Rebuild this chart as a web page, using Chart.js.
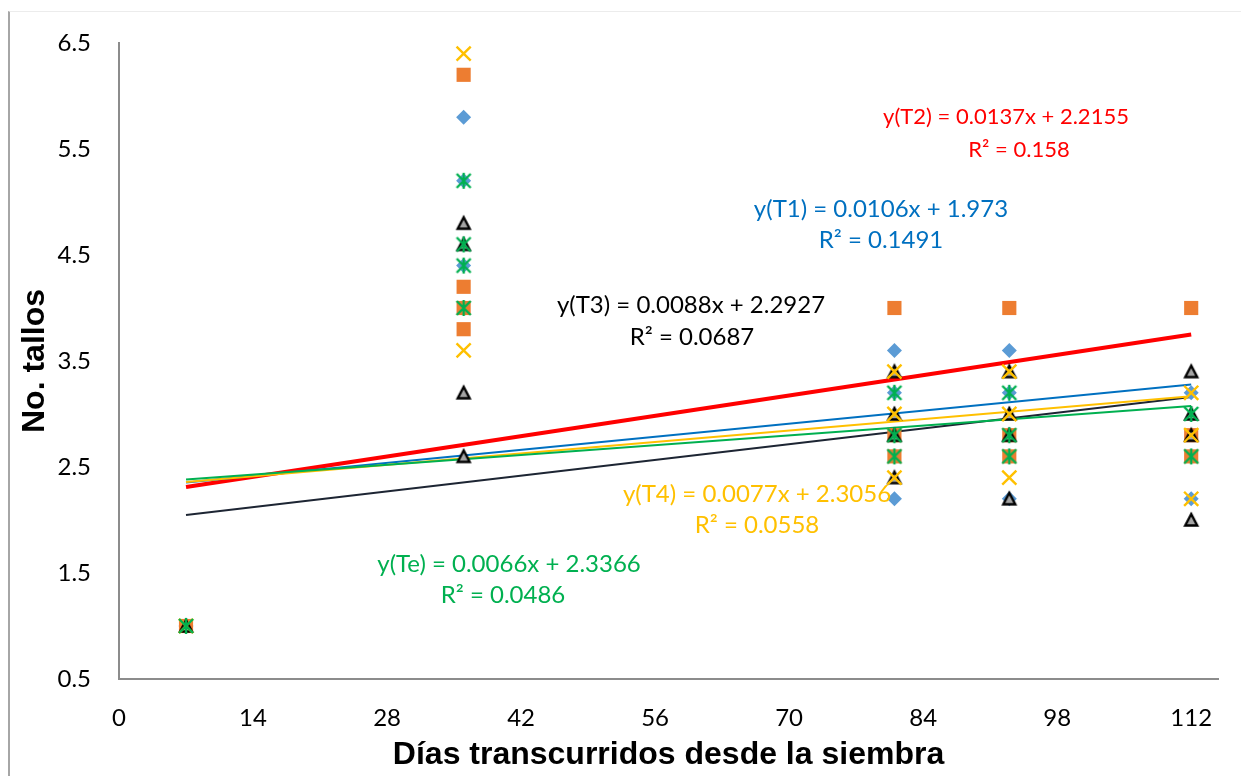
<!DOCTYPE html>
<html>
<head>
<meta charset="utf-8">
<script src="https://cdn.jsdelivr.net/npm/chart.js@4.4.0/dist/chart.umd.min.js"></script>
<style>
  html, body { margin: 0; padding: 0; background: #fff; }
  #wrap { position: relative; width: 1241px; height: 776px; overflow: hidden; }
  #frame { position: absolute; left: 8px; top: 11px; right: -10px; bottom: -10px; border-left: 2px solid #a6a6a6; border-top: 1px solid #ececec; }
  #chart { position: absolute; left: 0; top: 0; }
</style>
</head>
<body>
<div id="wrap">
  <div id="frame"></div>
  <canvas id="chart" width="1241" height="776"></canvas>
</div>
<script>
// tallos por tratamiento, días desde la siembra
const t1Days = [7, 36, 36, 36, 81, 81, 81, 93, 93, 93, 112, 112];
const t1Vals = [1.0, 5.8, 5.2, 4.4, 3.6, 3.2, 2.2, 3.6, 3.2, 2.2, 3.2, 2.2];

const t2Days = [7, 36, 36, 36, 36, 81, 81, 81, 93, 93, 93, 112, 112, 112];
const t2Vals = [1.0, 6.2, 4.2, 4.0, 3.8, 4.0, 2.8, 2.6, 4.0, 2.8, 2.6, 4.0, 2.8, 2.6];

const t3Days = [7, 36, 36, 36, 36, 81, 81, 81, 81, 93, 93, 93, 93, 112, 112, 112, 112];
const t3Vals = [1.0, 4.8, 4.6, 3.2, 2.6, 3.4, 3.0, 2.8, 2.4, 3.4, 3.0, 2.8, 2.2, 3.4, 3.0, 2.8, 2.0];

const t4Days = [7, 36, 36, 81, 81, 81, 93, 93, 93, 112, 112, 112];
const t4Vals = [1.0, 6.4, 3.6, 3.4, 3.0, 2.4, 3.4, 3.0, 2.4, 3.2, 2.8, 2.2];

const teDays = [7, 36, 36, 36, 36, 81, 81, 81, 93, 93, 93, 112, 112];
const teVals = [1.0, 5.2, 4.6, 4.4, 4.0, 3.2, 2.8, 2.6, 3.2, 2.8, 2.6, 3.0, 2.6];

// líneas de tendencia: y = m·x + b, con su R²
const trendNames = ['T1', 'T2', 'T3', 'T4', 'Te'];
const trendSlopes = [0.0106, 0.0137, 0.0088, 0.0077, 0.0066];
const trendIntercepts = [1.973, 2.2155, 2.2927, 2.3056, 2.3366];
const trendR2 = [0.1491, 0.158, 0.0687, 0.0558, 0.0486];
const trendRange = [7, 112];

const xTicks = [0, 14, 28, 42, 56, 70, 84, 98, 112];
const yTicks = [0.5, 1.5, 2.5, 3.5, 4.5, 5.5, 6.5];

// estilos
const trendLineColors = ['#1d2533', '#ff0000', '#0070c0', '#ffc000', '#00b050'];
const trendLineWidths = [2, 4, 2, 2, 2];
const eqColors = ['#0070c0', '#ff0000', '#000000', '#ffc000', '#00b050'];
const eqFontSizes = [24, 22, 24, 24, 24];
// centro (px) de cada renglón: ecuación y R²
const eqPos = [
  [[881, 209], [881, 240]],
  [[1006, 117], [1019, 150]],
  [[691, 305], [692, 337]],
  [[757, 494], [757, 525]],
  [[509, 564], [503, 595]],
];

function marker(draw) {
  const c = document.createElement('canvas');
  c.width = 20;
  c.height = 20;
  draw(c.getContext('2d'));
  return c;
}

const starMark = marker((g) => {
  g.strokeStyle = '#00b050';
  g.lineWidth = 2.4;
  g.beginPath();
  g.moveTo(3, 3); g.lineTo(17, 17);
  g.moveTo(17, 3); g.lineTo(3, 17);
  g.moveTo(10, 2); g.lineTo(10, 18);
  g.stroke();
});

const triMark = marker((g) => {
  g.fillStyle = '#a5a5a5';
  g.strokeStyle = '#000';
  g.lineWidth = 2.4;
  g.lineJoin = 'miter';
  g.beginPath();
  g.moveTo(10, 4);
  g.lineTo(16, 15.5);
  g.lineTo(4, 15.5);
  g.closePath();
  g.fill();
  g.stroke();
});

const pts = (xs, ys) => xs.map((x, i) => ({ x: x, y: ys[i] }));

const trendSets = trendNames.map((name, i) => ({
  label: 'Lineal (' + name + ')',
  data: trendRange.map((x) => ({ x: x, y: trendSlopes[i] * x + trendIntercepts[i] })),
  showLine: true,
  borderColor: trendLineColors[i],
  borderWidth: trendLineWidths[i],
  pointRadius: 0,
  order: 15 - i,
}));

const pointSets = [
  { label: 'T1', data: pts(t1Days, t1Vals), pointStyle: 'rectRot', pointRadius: 7.5,
    backgroundColor: '#5b9bd5', borderColor: '#5b9bd5', borderWidth: 0, order: 5 },
  { label: 'T2', data: pts(t2Days, t2Vals), pointStyle: 'rect', pointRadius: 10,
    backgroundColor: '#ed7d31', borderColor: '#ed7d31', borderWidth: 0, order: 4 },
  { label: 'T3', data: pts(t3Days, t3Vals), pointStyle: triMark, pointRadius: 8, order: 3 },
  { label: 'T4', data: pts(t4Days, t4Vals), pointStyle: 'crossRot', pointRadius: 10,
    borderColor: '#ffc000', borderWidth: 2.4, order: 2 },
  { label: 'Te', data: pts(teDays, teVals), pointStyle: starMark, pointRadius: 8, order: 1 },
];

const eqLabels = {
  id: 'eqLabels',
  afterDatasetsDraw(chart) {
    const ctx = chart.ctx;
    ctx.save();
    ctx.textAlign = 'center';
    ctx.textBaseline = 'middle';
    trendNames.forEach((name, i) => {
      ctx.font = eqFontSizes[i] + 'px Lato';
      ctx.fillStyle = eqColors[i];
      const eq = 'y(' + name + ') = ' + trendSlopes[i] + 'x + ' + trendIntercepts[i];
      const r2 = 'R² = ' + trendR2[i];
      ctx.fillText(eq, eqPos[i][0][0], eqPos[i][0][1]);
      ctx.fillText(r2, eqPos[i][1][0], eqPos[i][1][1]);
    });
    ctx.restore();
  },
};

const axisBorder = { display: true, color: '#8c8c8c', width: 2 };

new Chart(document.getElementById('chart'), {
  type: 'scatter',
  data: { datasets: pointSets.concat(trendSets) },
  options: {
    responsive: false,
    animation: false,
    events: [],
    layout: { padding: { top: 43, right: 23, bottom: 0, left: 0 } },
    plugins: { legend: { display: false }, tooltip: { enabled: false } },
    scales: {
      x: {
        type: 'linear',
        min: 0,
        max: 114.8,
        grid: { display: false },
        border: axisBorder,
        afterBuildTicks: (s) => { s.ticks = xTicks.map((v) => ({ value: v })); },
        afterFit: (s) => { s.height = 97; },
        ticks: { color: '#000', padding: 17, font: { family: 'Lato', size: 24 } },
        title: {
          display: true,
          text: 'Días transcurridos desde la siembra',
          color: '#000',
          padding: { top: 0, bottom: 2 },
          font: { family: 'Liberation Sans', size: 32, weight: 'bold' },
        },
      },
      y: {
        type: 'linear',
        min: 0.5,
        max: 6.5,
        grid: { display: false },
        border: axisBorder,
        afterBuildTicks: (s) => { s.ticks = yTicks.map((v) => ({ value: v })); },
        afterFit: (s) => { s.width = 119; },
        ticks: { color: '#000', padding: 20, font: { family: 'Lato', size: 24 }, callback: (v) => v.toFixed(1) },
        title: {
          display: true,
          text: 'No. tallos',
          color: '#000',
          padding: { top: 16, bottom: 0 },
          font: { family: 'Liberation Sans', size: 32, weight: 'bold' },
        },
      },
    },
  },
  plugins: [eqLabels],
});
</script>
</body>
</html>
